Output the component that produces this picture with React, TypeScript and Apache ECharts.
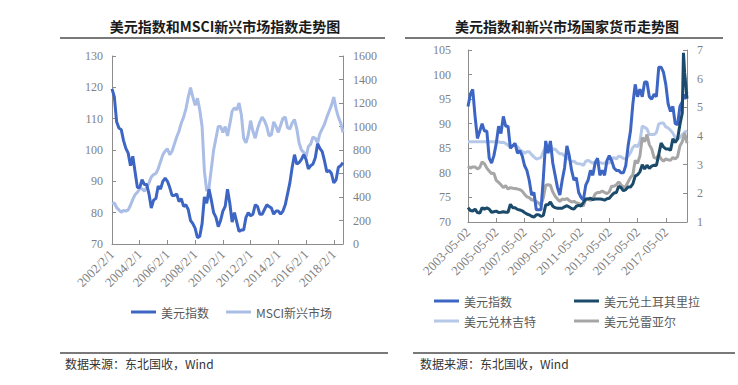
import React, { useEffect, useRef } from "react";
import * as echarts from "echarts";

// ---------- Left chart: 美元指数 vs MSCI 新兴市场 (bi-monthly from 2002/2) ----------
const leftMonths = Array.from({ length: 101 }, (_, i) => i * 2); // months since 2002/2
const leftXLabels = ["2002/2/1", "2004/2/1", "2006/2/1", "2008/2/1", "2010/2/1", "2012/2/1", "2014/2/1", "2016/2/1", "2018/2/1"];
const leftDxy = [
  119.5, 117, 109, 107, 106.5, 103, 100.5, 99, 95, 98,
  93, 88, 88, 90.5, 89, 89, 86, 81.5, 84, 84.5,
  88.5, 87.5, 90, 91, 90, 88, 85.5, 85.5, 86, 83.5,
  84.5, 82, 82.5, 81, 77.5, 76.5, 75, 72, 72.5, 76.5,
  85, 83, 87.5, 84, 80, 78.5, 75.5, 77.5, 80.5, 82,
  87.5, 83, 77, 80, 77, 74, 74.5, 74.5, 78.5, 80,
  79, 79.5, 82.5, 82, 79.5, 79.5, 81, 82.5, 82, 81.5,
  79.5, 80.5, 80.5, 79.5, 80.5, 82.5, 86, 89.5, 94.5, 98.5,
  95.5, 96, 97, 98.5, 97, 94, 95, 95.5, 97.5, 102,
  100.5, 99.5, 96.5, 93, 93.5, 92.5, 89.5, 90.5, 94.5, 95, 96,
];
const leftMsci = [
  345, 350, 310, 290, 270, 285, 280, 290, 330, 380,
  420, 440, 470, 470, 450, 480, 520, 570, 590, 600,
  640, 700, 760, 790, 810, 760, 790, 850, 910, 960,
  1030, 1080, 1150, 1250, 1330, 1250, 1180, 1240, 1140, 1000,
  620, 450, 480, 640, 800, 900, 1000, 1000, 950, 1000,
  920, 1020, 1130, 1160, 1140, 1200, 1100, 900, 860, 930,
  1050, 960, 900, 980, 1040, 1080, 1050, 1000, 920, 930,
  1040, 1000, 950, 1010, 1070, 1080, 990, 980, 1030, 1060,
  980, 860, 800, 780, 740, 830, 850, 910, 900, 860,
  940, 980, 1020, 1080, 1130, 1180, 1250, 1150, 1080, 1030, 950,
];

// ---------- Right chart: 美元指数 and EM currencies (bi-monthly from 2003-05) ----------
const rightMonths = [...Array.from({ length: 92 }, (_, i) => i * 2), 183, 184, 186]; // months since 2003-05
const rightXLabels = ["2003-05-02", "2005-05-02", "2007-05-02", "2009-05-02", "2011-05-02", "2013-05-02", "2015-05-02", "2017-05-02"];
const rightDxy = [
  93.5, 96, 97, 91.5, 87, 88.5, 90, 88.5, 88.5, 83,
  82, 83.5, 86, 89.5, 88, 91.5, 89.5, 89.5, 85, 85.5,
  86, 84, 84.5, 83.5, 81.5, 80.5, 78.5, 75.5, 76, 72.5,
  72.5, 72.5, 79, 86.5, 84, 86.5, 82, 79.5, 77, 75.5,
  78.5, 81, 85.5, 83.5, 80.5, 78.5, 79, 76, 75, 74.5,
  77.5, 78.5, 80.5, 79.5, 82, 83, 79.5, 80.5, 79.5, 82.5,
  83.5, 82.5, 81, 80.5, 80.5, 80, 80, 81.5, 85.5, 88.5,
  94, 98, 95.5, 97, 95.5, 98.5, 98.5, 95.5, 95, 96,
  95.5, 101.5, 101.5, 100.5, 98, 94, 92.5, 93.5, 90, 89.8,
  93.5, 94.5, 96, 95, 96.5,
];
const rightTry = [
  1.5, 1.4, 1.38, 1.45, 1.33, 1.31, 1.5, 1.45, 1.49, 1.45,
  1.34, 1.36, 1.38, 1.33, 1.34, 1.36, 1.34, 1.34, 1.62, 1.5,
  1.5, 1.44, 1.42, 1.39, 1.33, 1.28, 1.25, 1.2, 1.17, 1.25,
  1.25, 1.2, 1.23, 1.6, 1.6, 1.7, 1.55, 1.5, 1.48, 1.48,
  1.48, 1.53, 1.57, 1.52, 1.47, 1.45, 1.55, 1.58, 1.56, 1.68,
  1.8, 1.8, 1.83, 1.78, 1.8, 1.8, 1.8, 1.79, 1.76, 1.81,
  1.83, 1.93, 2.01, 2.03, 2.25, 2.2, 2.09, 2.13, 2.22, 2.22,
  2.33, 2.6, 2.65, 2.75, 3.0, 2.85, 2.98, 2.87, 2.95, 2.98,
  2.97, 3.35, 3.75, 3.62, 3.55, 3.55, 3.5, 3.9, 3.78, 3.9,
  4.4, 4.8, 6.9, 6.2, 5.3,
];
const rightMyr = [
  3.8, 3.8, 3.8, 3.8, 3.8, 3.8, 3.8, 3.8, 3.8, 3.8,
  3.8, 3.8, 3.8, 3.8, 3.77, 3.78, 3.74, 3.68, 3.62, 3.67,
  3.68, 3.63, 3.52, 3.47, 3.4, 3.45, 3.45, 3.35, 3.27, 3.2,
  3.22, 3.25, 3.45, 3.62, 3.6, 3.7, 3.52, 3.55, 3.45, 3.38,
  3.38, 3.3, 3.25, 3.18, 3.1, 3.12, 3.05, 3.03, 3.02, 2.97,
  3.12, 3.15, 3.1, 3.05, 3.1, 3.15, 3.07, 3.05, 3.05, 3.1,
  3.05, 3.2, 3.25, 3.2, 3.3, 3.27, 3.22, 3.2, 3.3, 3.42,
  3.6, 3.68, 3.62, 3.8, 4.35, 4.3, 4.25, 4.05, 4.05, 4.05,
  4.12, 4.42, 4.45, 4.45, 4.32, 4.28, 4.2, 4.1, 3.95, 3.9,
  3.95, 4.05, 4.08, 4.14, 4.18,
];
const rightBrl = [
  2.95, 2.88, 2.92, 2.92, 2.85, 2.9, 3.1, 3.03, 2.88, 2.78,
  2.69, 2.7, 2.45, 2.38, 2.3, 2.2, 2.27, 2.15, 2.2, 2.18,
  2.17, 2.15, 2.13, 2.08, 1.97, 1.88, 1.85, 1.77, 1.78, 1.72,
  1.66, 1.58, 1.85, 2.28, 2.3, 2.28, 2.05, 1.9, 1.8, 1.72,
  1.8, 1.78, 1.82, 1.75, 1.7, 1.72, 1.67, 1.65, 1.6, 1.56,
  1.8, 1.8, 1.75, 1.8, 1.98, 2.03, 2.03, 2.08, 2.03, 1.99,
  2.05, 2.25, 2.25, 2.3, 2.4, 2.3, 2.22, 2.24, 2.4, 2.55,
  2.65, 3.15, 3.05, 3.3, 3.95, 3.8, 4.05, 3.7, 3.55, 3.25,
  3.22, 3.35, 3.2, 3.12, 3.2, 3.17, 3.15, 3.25, 3.2, 3.28,
  3.65, 3.8, 3.95, 4.1, 3.75,
];

const pair = (xs: number[], ys: number[]) => xs.map((x, i) => [x, ys[i]]);

const CJK = "'Noto Sans CJK SC', sans-serif";
const SERIF = "'Liberation Serif', 'DejaVu Serif', serif";
const AXIS_LINE = "#8c8c8c";
const LABEL = "#7f7f7f";

const C_DXY = "#3d66c4";
const C_MSCI = "#a9bde6";
const C_TRY = "#1b4a6b";
const C_MYR = "#b6c8e8";
const C_BRL = "#a6a6a6";

function yAxis(gridIndex: number, min: number, max: number, interval: number, position: "left" | "right", margin: number) {
  return {
    type: "value",
    gridIndex,
    min,
    max,
    interval,
    position,
    axisLine: { show: true, lineStyle: { color: AXIS_LINE, width: 1 } },
    axisTick: { show: true, inside: true, length: 4, lineStyle: { color: AXIS_LINE } },
    splitLine: { show: false },
    axisLabel: { color: LABEL, fontSize: 12, fontFamily: SERIF, margin, formatter: (v: number) => String(v) },
  };
}

function xAxis(gridIndex: number, max: number, labels: string[]) {
  return {
    type: "value",
    gridIndex,
    min: 0,
    max,
    interval: 24,
    axisLine: { show: true, lineStyle: { color: AXIS_LINE, width: 1 } },
    axisTick: { show: true, inside: true, length: 4, lineStyle: { color: AXIS_LINE } },
    splitLine: { show: false },
    axisLabel: {
      color: LABEL,
      fontSize: 13,
      fontFamily: SERIF,
      rotate: 45,
      margin: 8,
      showMaxLabel: false,
      formatter: (v: number) => (v % 24 === 0 && labels[v / 24] ? labels[v / 24] : ""),
    },
  };
}

function lineSeries(name: string, xi: number, yi: number, data: number[][], color: string, z: number) {
  return {
    type: "line",
    name,
    xAxisIndex: xi,
    yAxisIndex: yi,
    data,
    showSymbol: false,
    symbol: "none",
    color,
    z,
    lineStyle: { color, width: 3 },
  };
}

const legendBase = {
  icon: "rect",
  itemWidth: 25,
  itemHeight: 3,
  padding: 0,
  selectedMode: false,
  textStyle: { fontSize: 12, color: "#595959", fontFamily: CJK },
};

export default function App() {
  const ref = useRef<HTMLDivElement>(null);
  useEffect(() => {
    document.body.style.margin = "0";
    if (!ref.current) return;
    const chart = echarts.init(ref.current, null, { renderer: "svg" });
    const option: any = {
      animation: false,
      backgroundColor: "#ffffff",
      grid: [
        { left: 112, top: 56, width: 231, height: 188 },
        { left: 468, top: 50, width: 219, height: 172 },
      ],
      xAxis: [xAxis(0, 200, leftXLabels), xAxis(1, 186, rightXLabels)],
      yAxis: [
        yAxis(0, 70, 130, 10, "left", 9),
        yAxis(0, 0, 1600, 200, "right", 10),
        yAxis(1, 70, 105, 5, "left", 17),
        yAxis(1, 1, 7, 1, "right", 10),
      ],
      legend: [
        { ...legendBase, left: 131, top: 306, itemGap: 17, data: ["美元指数", "MSCI新兴市场"] },
        { ...legendBase, left: 434, top: 295, orient: "vertical", itemGap: 8, data: ["美元指数", "美元兑林吉特"] },
        { ...legendBase, left: 574, top: 295, orient: "vertical", itemGap: 8, data: ["美元兑土耳其里拉", "美元兑雷亚尔"] },
      ],
      series: [
        lineSeries("MSCI新兴市场", 0, 1, pair(leftMonths, leftMsci), C_MSCI, 2),
        lineSeries("美元指数", 0, 0, pair(leftMonths, leftDxy), C_DXY, 3),
        lineSeries("美元兑林吉特", 1, 3, pair(rightMonths, rightMyr), C_MYR, 2),
        lineSeries("美元兑雷亚尔", 1, 3, pair(rightMonths, rightBrl), C_BRL, 3),
        lineSeries("美元指数", 1, 2, pair(rightMonths, rightDxy), C_DXY, 4),
        lineSeries("美元兑土耳其里拉", 1, 3, pair(rightMonths, rightTry), C_TRY, 5),
      ],
      graphic: [
        {
          type: "text",
          x: 225,
          y: 26,
          style: {
            text: "美元指数和MSCI新兴市场指数走势图",
            fill: "#1a1a1a",
            fontSize: 14,
            fontWeight: "bold",
            fontFamily: CJK,
            textAlign: "center",
            textVerticalAlign: "middle",
            verticalAlign: "middle",
          },
        },
        {
          type: "text",
          x: 567,
          y: 26,
          style: {
            text: "美元指数和新兴市场国家货币走势图",
            fill: "#1a1a1a",
            fontSize: 14,
            fontWeight: "bold",
            fontFamily: CJK,
            textAlign: "center",
            textVerticalAlign: "middle",
            verticalAlign: "middle",
          },
        },
        { type: "line", shape: { x1: 60, y1: 38, x2: 385, y2: 38 }, style: { stroke: "#4d4d4d", lineWidth: 1.5 } },
        { type: "line", shape: { x1: 405, y1: 38, x2: 723, y2: 38 }, style: { stroke: "#4d4d4d", lineWidth: 1.5 } },
        { type: "line", shape: { x1: 60, y1: 353, x2: 388, y2: 353 }, style: { stroke: "#4d4d4d", lineWidth: 1.5 } },
        { type: "line", shape: { x1: 413, y1: 353, x2: 735, y2: 353 }, style: { stroke: "#4d4d4d", lineWidth: 1.5 } },
        {
          type: "text",
          x: 65,
          y: 363,
          style: { text: "数据来源：东北国收，Wind", fill: "#333333", fontSize: 12, fontFamily: CJK, textVerticalAlign: "middle", verticalAlign: "middle" },
        },
        {
          type: "text",
          x: 420,
          y: 363,
          style: { text: "数据来源：东北国收，Wind", fill: "#333333", fontSize: 12, fontFamily: CJK, textVerticalAlign: "middle", verticalAlign: "middle" },
        },
      ],
    };
    chart.setOption(option);
    return () => chart.dispose();
  }, []);
  return <div ref={ref} style={{ position: "fixed", left: 0, top: 0, width: 738, height: 385 }} />;
}
